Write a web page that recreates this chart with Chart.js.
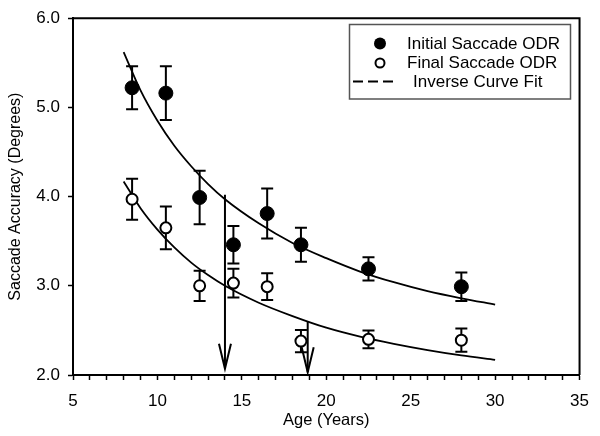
<!DOCTYPE html>
<html>
<head>
<meta charset="utf-8">
<script src="https://cdn.jsdelivr.net/npm/chart.js@4/dist/chart.umd.min.js"></script>
<style>html,body{margin:0;padding:0;background:#fff}</style>
</head>
<body>
<canvas id="chart" width="600" height="436"></canvas>
<script>
// ===== DATA =====
const ages = [8.5, 10.5, 12.5, 14.5, 16.5, 18.5, 22.5, 28];
const initialMean = [5.22, 5.16, 3.99, 3.46, 3.81, 3.46, 3.19, 2.99];
const initialErr  = [0.24, 0.30, 0.30, 0.21, 0.28, 0.19, 0.13, 0.16];
const finalMean   = [3.97, 3.65, 3.00, 3.03, 2.99, 2.38, 2.40, 2.39];
const finalErr    = [0.23, 0.24, 0.17, 0.16, 0.15, 0.125, 0.10, 0.13];

// inverse curve fits
const fitX       = [8, 9, 10, 11, 12, 13, 14, 16, 18, 20, 22, 24, 26, 28, 30];
const initialFit = [5.62, 5.19, 4.85, 4.57, 4.34, 4.14, 3.97, 3.70, 3.48, 3.31, 3.16, 3.04, 2.94, 2.86, 2.79];
const finalFit   = [4.17, 3.87, 3.63, 3.43, 3.26, 3.12, 3.00, 2.81, 2.66, 2.53, 2.43, 2.35, 2.28, 2.22, 2.17];

// arrows marking ages
const arrowX   = [14, 18.9];
const arrowTop = [4.02, 2.60];
const arrowTip = [2.07, 2.03];

const legendLabels = ["Initial Saccade ODR", "Final Saccade ODR", "Inverse Curve Fit"];
const xTitle = "Age (Years)";
const yTitle = "Saccade Accuracy (Degrees)";

const FONT = "'Liberation Sans', Arial, sans-serif";
const pts = (xs, ys) => xs.map((x, i) => ({x: x, y: ys[i]}));

// ===== PLUGINS =====
const errorBars = {
    id: 'errorBars',
    beforeDatasetsDraw(chart){
        const {ctx, scales:{x, y}} = chart;
        ctx.save();
        ctx.strokeStyle = '#000';
        ctx.lineWidth = 2;
        [[initialMean, initialErr], [finalMean, finalErr]].forEach(([m, e]) => {
            ages.forEach((a, i) => {
                const px = x.getPixelForValue(a);
                const t = y.getPixelForValue(m[i] + e[i]);
                const b = y.getPixelForValue(m[i] - e[i]);
                ctx.beginPath();
                ctx.moveTo(px, t); ctx.lineTo(px, b);
                ctx.moveTo(px-6, t); ctx.lineTo(px+6, t);
                ctx.moveTo(px-6, b); ctx.lineTo(px+6, b);
                ctx.stroke();
            });
        });
        ctx.restore();
    }
};

const arrowHeads = {
    id: 'arrowHeads',
    afterDatasetsDraw(chart){
        const {ctx, scales:{x, y}} = chart;
        ctx.save();
        ctx.strokeStyle = '#000';
        ctx.lineWidth = 2;
        arrowX.forEach((a, i) => {
            const px = x.getPixelForValue(a);
            const py = y.getPixelForValue(arrowTip[i]);
            ctx.beginPath();
            ctx.moveTo(px-6, py-25); ctx.lineTo(px, py); ctx.lineTo(px+6, py-25);
            ctx.stroke();
        });
        ctx.restore();
    }
};

const frameAndLegend = {
    id: 'frameAndLegend',
    afterDraw(chart){
        const {ctx, chartArea:ca} = chart;
        ctx.save();
        // closed frame (top + right)
        ctx.strokeStyle = '#000';
        ctx.lineWidth = 2;
        ctx.beginPath();
        ctx.moveTo(ca.left, ca.top); ctx.lineTo(ca.right, ca.top); ctx.lineTo(ca.right, ca.bottom);
        ctx.stroke();

        // legend box
        ctx.strokeStyle = '#555';
        ctx.lineWidth = 1.5;
        ctx.strokeRect(349.5, 24.5, 221, 74.5);
        ctx.fillStyle = '#000';
        ctx.beginPath(); ctx.arc(380, 43.5, 6, 0, Math.PI*2); ctx.fill();
        ctx.strokeStyle = '#000';
        ctx.lineWidth = 2;
        ctx.beginPath(); ctx.arc(380, 63, 4.5, 0, Math.PI*2); ctx.stroke();
        ctx.setLineDash([10, 5]);
        ctx.beginPath(); ctx.moveTo(353, 81.5); ctx.lineTo(398, 81.5); ctx.stroke();
        ctx.setLineDash([]);
        ctx.font = '17px ' + FONT;
        ctx.textBaseline = 'middle';
        ctx.fillText(legendLabels[0], 407, 44);
        ctx.fillText(legendLabels[1], 407, 63);
        ctx.fillText(legendLabels[2], 413, 82);
        ctx.restore();
    }
};

// ===== CHART =====
const curve = (data) => ({
    data: data, showLine: true, pointRadius: 0, borderColor: '#000', borderWidth: 1.8,
    cubicInterpolationMode: 'monotone', fill: false
});
const arrowShaft = (i) => ({
    data: [{x: arrowX[i], y: arrowTop[i]}, {x: arrowX[i], y: arrowTip[i]}],
    showLine: true, pointRadius: 0, borderColor: '#000', borderWidth: 2
});

new Chart(document.getElementById('chart').getContext('2d'), {
    type: 'scatter',
    data: {
        datasets: [
            {label: legendLabels[0], data: pts(ages, initialMean), pointRadius: 7,
             backgroundColor: '#000', borderColor: '#000', borderWidth: 1},
            {label: legendLabels[1], data: pts(ages, finalMean), pointRadius: 5.5,
             backgroundColor: '#fff', borderColor: '#000', borderWidth: 2},
            curve(pts(fitX, initialFit)),
            curve(pts(fitX, finalFit)),
            arrowShaft(0),
            arrowShaft(1)
        ]
    },
    options: {
        responsive: false,
        animation: false,
        layout: {padding: {top: 17, right: 14, left: 0, bottom: 0}},
        plugins: {legend: {display: false}, tooltip: {enabled: false}},
        scales: {
            x: {
                type: 'linear', min: 5, max: 35,
                afterFit: s => { s.height = 61; },
                border: {color: '#000', width: 2},
                grid: {drawOnChartArea: false, drawTicks: true, tickLength: 5, tickColor: '#000', tickWidth: 1.5},
                ticks: {stepSize: 1, autoSkip: false, maxRotation: 0, padding: 11, color: '#000',
                        font: {family: FONT, size: 17},
                        callback: v => (v % 5 === 0 ? v : '')},
                title: {display: true, text: xTitle, color: '#000', font: {family: FONT, size: 16.5},
                        padding: {top: 0, bottom: 6}}
            },
            y: {
                type: 'linear', min: 2, max: 6,
                afterFit: s => { s.width = 73; },
                border: {color: '#000', width: 2},
                grid: {drawOnChartArea: false, drawTicks: true, tickLength: 5, tickColor: '#000', tickWidth: 1.5},
                ticks: {stepSize: 1, padding: 8, color: '#000', font: {family: FONT, size: 17},
                        callback: v => v.toFixed(1)},
                title: {display: true, text: yTitle, color: '#000', font: {family: FONT, size: 16},
                        padding: {top: 6, bottom: 0}}
            }
        }
    },
    plugins: [errorBars, arrowHeads, frameAndLegend]
});
</script>
</body>
</html>
